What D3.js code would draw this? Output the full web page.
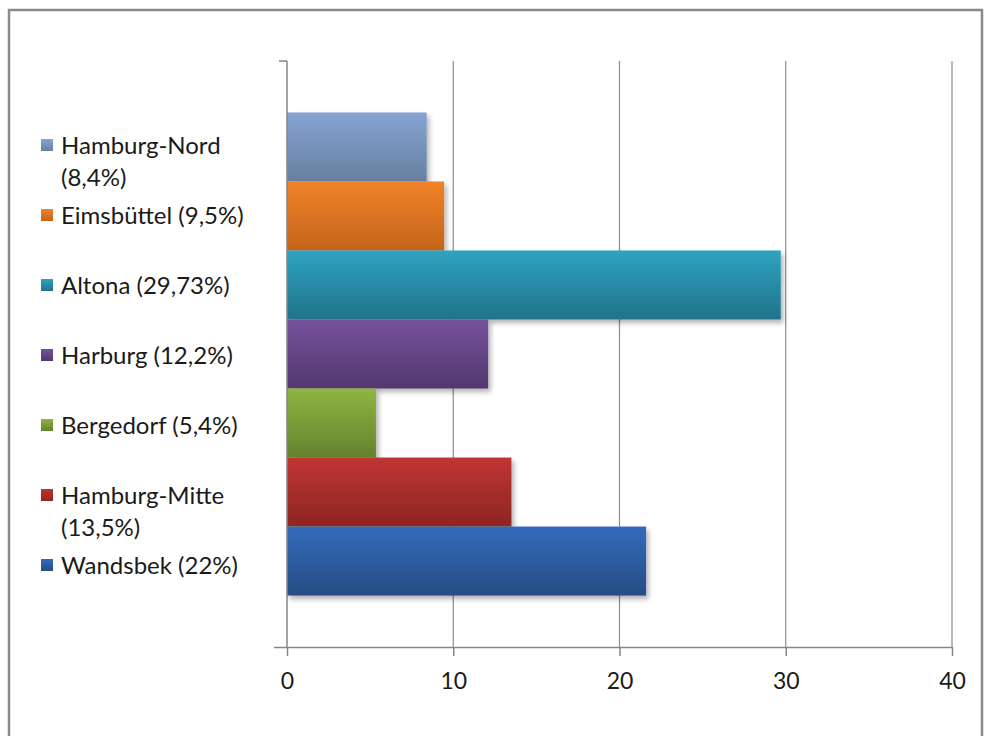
<!DOCTYPE html>
<html>
<head>
<meta charset="utf-8">
<script src="https://cdn.jsdelivr.net/npm/d3@7"></script>
<style>
  html, body { margin: 0; padding: 0; background: #fff; }
  svg { display: block; }
  text { font-family: Lato, "Open Sans", sans-serif; fill: #1a1a1a; }
</style>
</head>
<body>
<svg id="chart" width="987" height="736"></svg>
<script>
// ---- data ----
const districts = ["Hamburg-Nord", "Eimsbüttel", "Altona", "Harburg", "Bergedorf", "Hamburg-Mitte", "Wandsbek"];
const values = [8.4, 9.45, 29.7, 12.1, 5.35, 13.5, 21.6];
const legendLabels = ["Hamburg-Nord\n(8,4%)", "Eimsbüttel (9,5%)", "Altona (29,73%)", "Harburg (12,2%)", "Bergedorf (5,4%)", "Hamburg-Mitte\n(13,5%)", "Wandsbek (22%)"];
const colorsTop = ["#85a4d3", "#f18329", "#2fa3c1", "#75529d", "#8fb540", "#bf3532", "#326bbb"];
const colorsBottom = ["#66809f", "#c4631b", "#22728a", "#52386f", "#65822e", "#8e2523", "#264d85"];
const xTicks = [0, 10, 20, 30, 40];

const svg = d3.select("#chart");
const plot = { left: 287, right: 952, top: 61, bottom: 647 };

// frame
svg.append("rect").attr("x", 9).attr("y", 10).attr("width", 973).attr("height", 740)
  .attr("fill", "none").attr("stroke", "#8a8a8a").attr("stroke-width", 2.5);

const defs = svg.append("defs");
districts.forEach((d, i) => {
  const g = defs.append("linearGradient").attr("id", "grad" + i)
    .attr("x1", 0).attr("y1", 0).attr("x2", 0).attr("y2", 1);
  g.append("stop").attr("offset", "0%").attr("stop-color", colorsTop[i]);
  g.append("stop").attr("offset", "100%").attr("stop-color", colorsBottom[i]);
});
const f = defs.append("filter").attr("id", "shadow").attr("x", "-10%").attr("y", "-20%").attr("width", "130%").attr("height", "160%");
f.append("feDropShadow").attr("dx", 2.5).attr("dy", 3.5).attr("stdDeviation", 2.5)
  .attr("flood-color", "#000").attr("flood-opacity", 0.3);

const x = d3.scaleLinear().domain([0, 40]).range([plot.left, plot.right]);
const y = d3.scaleBand().domain(districts).range([plot.top, plot.bottom])
  .paddingInner(0).paddingOuter(0.745);

// gridlines
svg.append("g").selectAll("line").data(xTicks.slice(1)).join("line")
  .attr("x1", d => x(d)).attr("x2", d => x(d))
  .attr("y1", plot.top).attr("y2", plot.bottom)
  .attr("stroke", "#8c8c8c").attr("stroke-width", 1.2);

// bars
svg.append("g").selectAll("rect").data(districts).join("rect")
  .attr("x", x(0))
  .attr("y", d => y(d))
  .attr("width", (d, i) => x(values[i]) - x(0))
  .attr("height", y.bandwidth())
  .attr("fill", (d, i) => `url(#grad${i})`)
  .attr("filter", "url(#shadow)");

// vertical (category) axis
const vg = svg.append("g").attr("stroke", "#868686").attr("stroke-width", 1.5);
vg.append("line").attr("x1", plot.left).attr("x2", plot.left).attr("y1", plot.top).attr("y2", plot.bottom);
vg.append("line").attr("x1", plot.left - 8).attr("x2", plot.left).attr("y1", plot.top).attr("y2", plot.top);

// horizontal axis
const xAxis = d3.axisBottom(x).tickValues(xTicks).tickSize(9).tickPadding(17).tickSizeOuter(0);
const ax = svg.append("g").attr("transform", `translate(0,${plot.bottom})`).call(xAxis);
ax.select(".domain").attr("stroke", "#868686").attr("stroke-width", 1.5)
  .attr("d", `M${plot.left - 13},0.5H${plot.right}`);
ax.selectAll(".tick line").attr("stroke", "#868686").attr("stroke-width", 1.5);
ax.selectAll(".tick text").attr("font-family", "Lato, sans-serif").attr("font-size", 23).attr("fill", "#1a1a1a");

// legend
const lg = svg.append("g");
legendLabels.forEach((lab, i) => {
  const base = 154 + 70 * i;
  lg.append("rect").attr("x", 41).attr("y", base - 15).attr("width", 12).attr("height", 12)
    .attr("fill", `url(#grad${i})`);
  const t = lg.append("text").attr("x", 61).attr("y", base).attr("font-size", 24);
  lab.split("\n").forEach((line, j) => {
    t.append("tspan").attr("x", 61).attr("dy", j === 0 ? 0 : 32).text(line);
  });
});
</script>
</body>
</html>
